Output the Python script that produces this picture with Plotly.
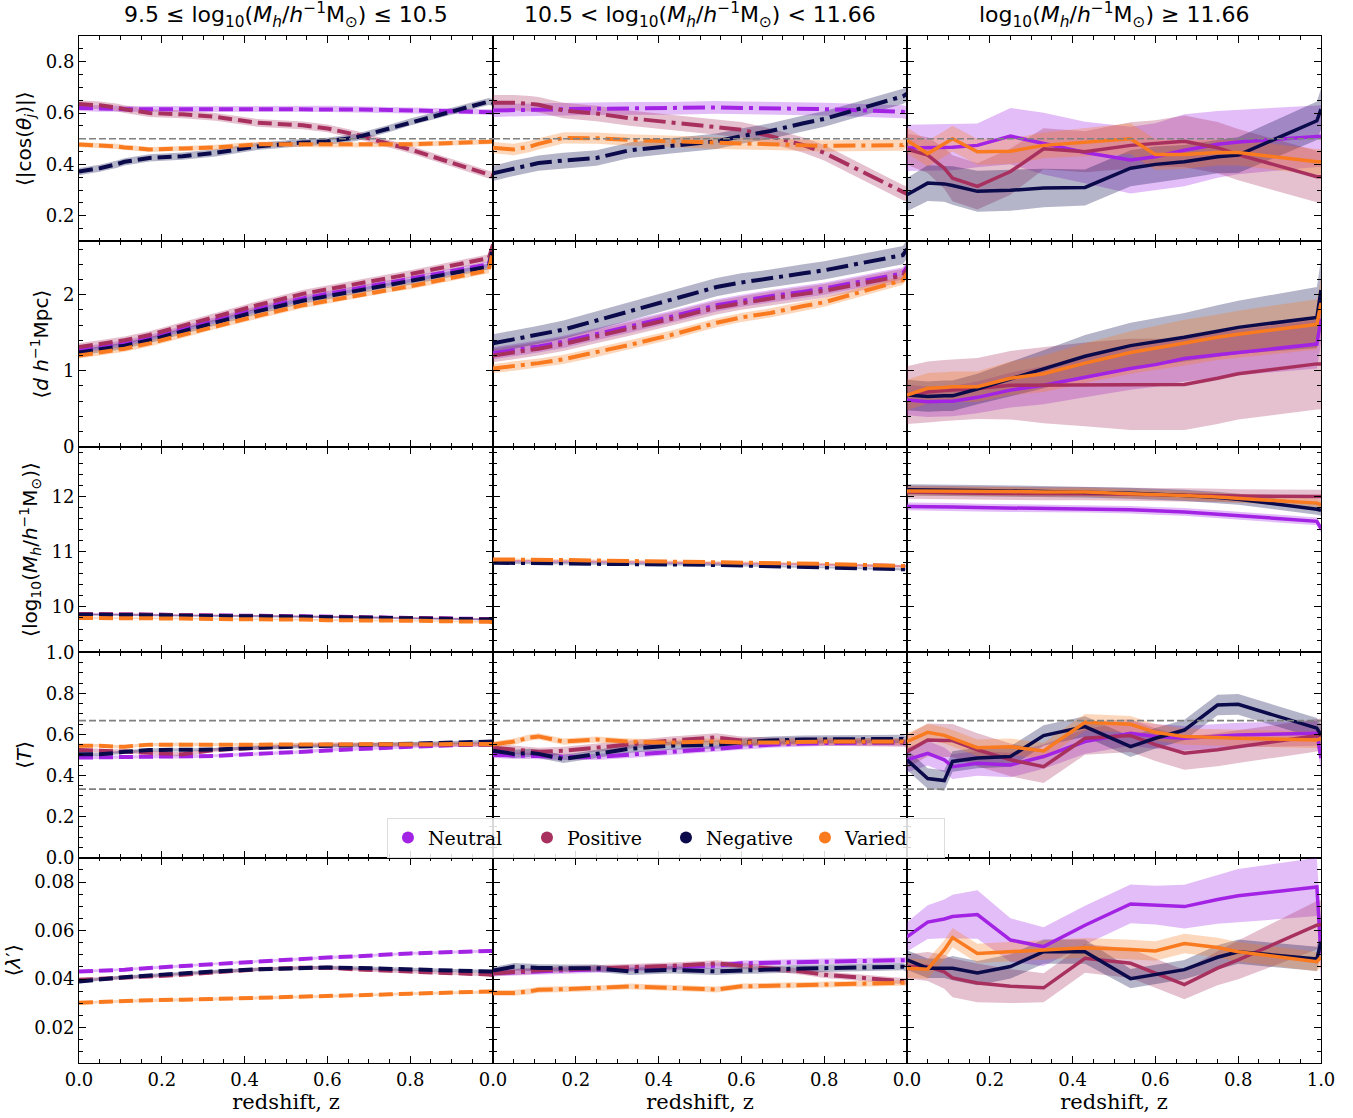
import plotly.graph_objects as go
from plotly.subplots import make_subplots

# Redshift sampling shared by every panel
z = [0.0, 0.05, 0.09, 0.11, 0.17, 0.25, 0.33, 0.43, 0.54, 0.60, 0.67, 0.75, 0.80, 0.99, 1.0]

groups = ["Neutral", "Positive", "Negative", "Varied"]
colors = {"Neutral": "#a323e5", "Positive": "#a8305f", "Negative": "#0b0a4b", "Varied": "#f97a1f"}

# ---------------- <|cos(theta_j)|> ----------------
cos_low = {
    "Neutral":  [0.62, 0.617, 0.615, 0.615, 0.615, 0.615, 0.616, 0.617, 0.617, 0.616, 0.614, 0.612, 0.61, 0.606, 0.603],
    "Positive": [0.635, 0.63, 0.622, 0.615, 0.60, 0.595, 0.585, 0.562, 0.552, 0.54, 0.515, 0.48, 0.458, 0.36, 0.355],
    "Negative": [0.372, 0.385, 0.40, 0.41, 0.425, 0.432, 0.445, 0.47, 0.485, 0.49, 0.505, 0.54, 0.565, 0.645, 0.64],
    "Varied":   [0.477, 0.474, 0.47, 0.466, 0.458, 0.462, 0.466, 0.478, 0.478, 0.476, 0.475, 0.477, 0.478, 0.488, 0.49],
}
cos_mid = {
    "Neutral":  [0.61, 0.61, 0.612, 0.613, 0.615, 0.617, 0.618, 0.618, 0.622, 0.62, 0.618, 0.616, 0.615, 0.605, 0.60],
    "Positive": [0.64, 0.64, 0.636, 0.632, 0.61, 0.598, 0.58, 0.562, 0.545, 0.535, 0.51, 0.475, 0.445, 0.29, 0.285],
    "Negative": [0.365, 0.385, 0.398, 0.405, 0.415, 0.425, 0.455, 0.472, 0.49, 0.51, 0.53, 0.56, 0.577, 0.665, 0.675],
    "Varied":   [0.465, 0.458, 0.47, 0.48, 0.503, 0.502, 0.495, 0.49, 0.482, 0.48, 0.478, 0.475, 0.472, 0.475, 0.49],
}
cos_high = {
    "Neutral":  [0.464, 0.465, 0.466, 0.467, 0.474, 0.51, 0.481, 0.446, 0.417, 0.43, 0.455, 0.478, 0.487, 0.51, 0.51],
    "Positive": [0.459, 0.436, 0.385, 0.346, 0.314, 0.372, 0.461, 0.449, 0.474, 0.482, 0.49, 0.465, 0.438, 0.352, 0.352],
    "Negative": [0.282, 0.327, 0.324, 0.318, 0.295, 0.299, 0.308, 0.31, 0.385, 0.40, 0.41, 0.43, 0.436, 0.57, 0.615],
    "Varied":   [0.494, 0.442, 0.48, 0.50, 0.449, 0.451, 0.474, 0.487, 0.50, 0.438, 0.438, 0.446, 0.446, 0.41, 0.41],
}
cos_low_err = {"Neutral": 0.012, "Positive": 0.015, "Negative": 0.014, "Varied": 0.01}
cos_mid_err = {"Neutral": 0.025, "Positive": 0.03, "Negative": 0.03, "Varied": 0.022}
cos_high_err = {
    "Neutral":  [0.09, 0.09, 0.09, 0.09, 0.085, 0.11, 0.12, 0.12, 0.13, 0.13, 0.14, 0.13, 0.125, 0.12, 0.12],
    "Positive": [0.06, 0.07, 0.08, 0.09, 0.09, 0.09, 0.08, 0.08, 0.09, 0.09, 0.10, 0.10, 0.10, 0.10, 0.10],
    "Negative": [0.065, 0.07, 0.07, 0.075, 0.08, 0.08, 0.075, 0.07, 0.07, 0.07, 0.065, 0.065, 0.07, 0.075, 0.08],
    "Varied":   [0.05, 0.05, 0.05, 0.05, 0.05, 0.05, 0.05, 0.055, 0.06, 0.06, 0.055, 0.05, 0.05, 0.05, 0.05],
}

# ---------------- <d h^-1 Mpc> ----------------
dist_low = {
    "Neutral":  [1.27, 1.31, 1.34, 1.36, 1.43, 1.55, 1.67, 1.81, 1.95, 2.01, 2.08, 2.16, 2.20, 2.40, 2.64],
    "Positive": [1.31, 1.35, 1.38, 1.40, 1.47, 1.59, 1.71, 1.86, 2.01, 2.07, 2.14, 2.22, 2.27, 2.48, 2.66],
    "Negative": [1.24, 1.28, 1.31, 1.33, 1.40, 1.52, 1.64, 1.78, 1.92, 1.98, 2.05, 2.13, 2.17, 2.37, 2.62],
    "Varied":   [1.20, 1.24, 1.27, 1.29, 1.36, 1.47, 1.59, 1.72, 1.86, 1.92, 1.99, 2.07, 2.11, 2.32, 2.60],
}
dist_mid = {
    "Neutral":  [1.23, 1.27, 1.30, 1.32, 1.38, 1.48, 1.58, 1.71, 1.86, 1.92, 1.98, 2.04, 2.08, 2.28, 2.36],
    "Positive": [1.20, 1.24, 1.27, 1.29, 1.35, 1.45, 1.55, 1.68, 1.83, 1.89, 1.95, 2.01, 2.05, 2.25, 2.33],
    "Negative": [1.36, 1.41, 1.45, 1.47, 1.54, 1.66, 1.78, 1.93, 2.10, 2.16, 2.21, 2.28, 2.32, 2.52, 2.60],
    "Varied":   [1.03, 1.06, 1.09, 1.10, 1.15, 1.24, 1.34, 1.47, 1.63, 1.70, 1.76, 1.85, 1.90, 2.19, 2.28],
}
dist_high = {
    "Neutral":  [0.615, 0.593, 0.60, 0.60, 0.65, 0.745, 0.81, 0.92, 1.03, 1.08, 1.16, 1.21, 1.24, 1.35, 1.68],
    "Positive": [0.68, 0.72, 0.74, 0.745, 0.766, 0.81, 0.81, 0.82, 0.82, 0.82, 0.82, 0.90, 0.96, 1.09, 1.09],
    "Negative": [0.68, 0.66, 0.67, 0.67, 0.76, 0.89, 1.02, 1.19, 1.33, 1.38, 1.44, 1.52, 1.57, 1.70, 2.06],
    "Varied":   [0.68, 0.77, 0.78, 0.79, 0.79, 0.90, 0.96, 1.10, 1.24, 1.30, 1.37, 1.44, 1.48, 1.61, 1.89],
}
dist_low_err = {"Neutral": 0.04, "Positive": 0.05, "Negative": 0.04, "Varied": 0.04}
dist_mid_err = {"Neutral": 0.08, "Positive": 0.09, "Negative": 0.12, "Varied": 0.06}
dist_high_err = {
    "Neutral":  [0.2, 0.2, 0.2, 0.2, 0.21, 0.23, 0.25, 0.27, 0.28, 0.29, 0.3, 0.3, 0.3, 0.32, 0.32],
    "Positive": [0.38, 0.4, 0.4, 0.4, 0.4, 0.45, 0.5, 0.55, 0.6, 0.6, 0.6, 0.6, 0.6, 0.6, 0.6],
    "Negative": [0.2, 0.2, 0.2, 0.2, 0.2, 0.22, 0.25, 0.28, 0.3, 0.31, 0.32, 0.34, 0.35, 0.4, 0.4],
    "Varied":   [0.2, 0.2, 0.2, 0.2, 0.2, 0.22, 0.24, 0.26, 0.28, 0.29, 0.3, 0.3, 0.31, 0.33, 0.33],
}

# ---------------- <log10(M_h)> ----------------
mass_low = {
    "Neutral":  [9.87, 9.87, 9.87, 9.86, 9.86, 9.85, 9.85, 9.84, 9.83, 9.82, 9.82, 9.81, 9.80, 9.78, 9.78],
    "Positive": [9.87, 9.87, 9.86, 9.86, 9.86, 9.85, 9.84, 9.84, 9.83, 9.82, 9.81, 9.80, 9.80, 9.78, 9.77],
    "Negative": [9.86, 9.86, 9.86, 9.85, 9.85, 9.84, 9.84, 9.83, 9.82, 9.82, 9.81, 9.80, 9.79, 9.77, 9.77],
    "Varied":   [9.80, 9.80, 9.80, 9.80, 9.79, 9.79, 9.78, 9.78, 9.77, 9.76, 9.76, 9.75, 9.75, 9.73, 9.72],
}
mass_mid = {
    "Neutral":  [10.83, 10.83, 10.83, 10.83, 10.82, 10.82, 10.81, 10.80, 10.79, 10.79, 10.78, 10.77, 10.77, 10.74, 10.74],
    "Positive": [10.83, 10.83, 10.83, 10.82, 10.82, 10.81, 10.81, 10.80, 10.79, 10.78, 10.78, 10.77, 10.76, 10.73, 10.73],
    "Negative": [10.80, 10.80, 10.80, 10.79, 10.79, 10.78, 10.78, 10.77, 10.76, 10.75, 10.74, 10.73, 10.72, 10.68, 10.68],
    "Varied":   [10.86, 10.86, 10.86, 10.85, 10.85, 10.84, 10.83, 10.82, 10.81, 10.80, 10.80, 10.79, 10.78, 10.74, 10.75],
}
mass_high = {
    "Neutral":  [11.82, 11.82, 11.81, 11.81, 11.80, 11.79, 11.78, 11.78, 11.76, 11.74, 11.72, 11.68, 11.65, 11.55, 11.42],
    "Positive": [12.08, 12.08, 12.07, 12.07, 12.06, 12.06, 12.05, 12.05, 12.04, 12.03, 12.03, 12.02, 12.01, 12.0, 12.0],
    "Negative": [12.12, 12.12, 12.12, 12.12, 12.11, 12.10, 12.09, 12.08, 12.06, 12.04, 12.02, 11.98, 11.95, 11.77, 11.75],
    "Varied":   [12.10, 12.10, 12.10, 12.10, 12.09, 12.09, 12.08, 12.08, 12.05, 12.04, 12.02, 11.99, 11.97, 11.88, 11.85],
}
mass_low_err = {"Neutral": 0.015, "Positive": 0.015, "Negative": 0.015, "Varied": 0.015}
mass_mid_err = {"Neutral": 0.02, "Positive": 0.02, "Negative": 0.02, "Varied": 0.02}
mass_high_err = {"Neutral": 0.07, "Positive": 0.12, "Negative": 0.1, "Varied": 0.08}

# ---------------- <T> ----------------
tri_low = {
    "Neutral":  [0.487, 0.488, 0.49, 0.49, 0.492, 0.49, 0.495, 0.505, 0.515, 0.525, 0.53, 0.535, 0.54, 0.553, 0.553],
    "Positive": [0.524, 0.522, 0.52, 0.516, 0.51, 0.503, 0.525, 0.535, 0.548, 0.55, 0.55, 0.55, 0.55, 0.55, 0.55],
    "Negative": [0.503, 0.503, 0.51, 0.515, 0.524, 0.524, 0.526, 0.535, 0.54, 0.545, 0.548, 0.552, 0.555, 0.565, 0.565],
    "Varied":   [0.545, 0.545, 0.54, 0.54, 0.55, 0.552, 0.55, 0.55, 0.55, 0.55, 0.55, 0.552, 0.552, 0.553, 0.553],
}
tri_mid = {
    "Neutral":  [0.50, 0.495, 0.495, 0.495, 0.49, 0.49, 0.50, 0.515, 0.53, 0.54, 0.55, 0.555, 0.558, 0.56, 0.555],
    "Positive": [0.535, 0.525, 0.52, 0.515, 0.52, 0.535, 0.55, 0.57, 0.585, 0.57, 0.565, 0.565, 0.565, 0.56, 0.555],
    "Negative": [0.52, 0.505, 0.51, 0.505, 0.48, 0.505, 0.53, 0.545, 0.55, 0.56, 0.57, 0.575, 0.575, 0.578, 0.57],
    "Varied":   [0.55, 0.565, 0.585, 0.59, 0.565, 0.575, 0.565, 0.56, 0.565, 0.56, 0.56, 0.565, 0.565, 0.565, 0.56],
}
tri_high = {
    "Neutral":  [0.476, 0.508, 0.476, 0.443, 0.459, 0.451, 0.492, 0.565, 0.605, 0.59, 0.581, 0.59, 0.597, 0.605, 0.484],
    "Positive": [0.516, 0.573, 0.57, 0.57, 0.525, 0.476, 0.443, 0.581, 0.594, 0.55, 0.508, 0.525, 0.54, 0.597, 0.597],
    "Negative": [0.476, 0.385, 0.375, 0.468, 0.485, 0.492, 0.594, 0.638, 0.54, 0.581, 0.621, 0.743, 0.746, 0.63, 0.597],
    "Varied":   [0.565, 0.61, 0.595, 0.581, 0.535, 0.54, 0.519, 0.659, 0.649, 0.61, 0.589, 0.585, 0.581, 0.573, 0.58],
}
tri_low_err = {"Neutral": 0.008, "Positive": 0.01, "Negative": 0.008, "Varied": 0.008}
tri_mid_err = {"Neutral": 0.015, "Positive": 0.02, "Negative": 0.02, "Varied": 0.015}
tri_high_err = {"Neutral": 0.06, "Positive": 0.08, "Negative": 0.05, "Varied": 0.04}

# ---------------- <lambda'> ----------------
spin_low = {
    "Neutral":  [0.0431, 0.0434, 0.0437, 0.0439, 0.0446, 0.0454, 0.0465, 0.0474, 0.0484, 0.0489, 0.0494, 0.0501, 0.0506, 0.0516, 0.0516],
    "Positive": [0.0397, 0.0401, 0.0404, 0.0406, 0.0410, 0.0418, 0.0428, 0.0440, 0.0447, 0.0447, 0.0440, 0.0433, 0.0431, 0.0419, 0.0417],
    "Negative": [0.0390, 0.0400, 0.0405, 0.0408, 0.0415, 0.0425, 0.0432, 0.0440, 0.0447, 0.0448, 0.0446, 0.0443, 0.0440, 0.0433, 0.0431],
    "Varied":   [0.0302, 0.0306, 0.0309, 0.0311, 0.0313, 0.0315, 0.0318, 0.0322, 0.0327, 0.0330, 0.0332, 0.0337, 0.0340, 0.0347, 0.0349],
}
spin_mid = {
    "Neutral":  [0.0424, 0.0428, 0.0431, 0.0433, 0.0436, 0.0440, 0.0444, 0.0449, 0.0455, 0.0465, 0.0468, 0.0471, 0.0473, 0.0478, 0.0478],
    "Positive": [0.0424, 0.0430, 0.0434, 0.0436, 0.0440, 0.0444, 0.0448, 0.0455, 0.0465, 0.0455, 0.0445, 0.0430, 0.0418, 0.0392, 0.039],
    "Negative": [0.0435, 0.0451, 0.0448, 0.0446, 0.0445, 0.0445, 0.0432, 0.0438, 0.0432, 0.0436, 0.0439, 0.0444, 0.0445, 0.0451, 0.0445],
    "Varied":   [0.0343, 0.0343, 0.0350, 0.0356, 0.0358, 0.0362, 0.0370, 0.0364, 0.0357, 0.0370, 0.0373, 0.0376, 0.0377, 0.0385, 0.0385],
}
spin_high = {
    "Neutral":  [0.0574, 0.0635, 0.0648, 0.0658, 0.0666, 0.0561, 0.0534, 0.0622, 0.0710, 0.0705, 0.0699, 0.0728, 0.0744, 0.0780, 0.0506],
    "Positive": [0.0452, 0.0452, 0.043, 0.0405, 0.0384, 0.0371, 0.0364, 0.0486, 0.0465, 0.0425, 0.0377, 0.0445, 0.0479, 0.0622, 0.0625],
    "Negative": [0.0479, 0.0445, 0.0445, 0.0445, 0.0425, 0.0452, 0.0513, 0.0513, 0.0402, 0.042, 0.0439, 0.049, 0.0513, 0.0483, 0.0554],
    "Varied":   [0.0445, 0.0441, 0.052, 0.0571, 0.0506, 0.0513, 0.052, 0.0529, 0.0522, 0.0516, 0.0547, 0.053, 0.0513, 0.0472, 0.049],
}
spin_low_err = {"Neutral": 0.0006, "Positive": 0.0007, "Negative": 0.0007, "Varied": 0.0006}
spin_mid_err = {"Neutral": 0.0012, "Positive": 0.0013, "Negative": 0.0015, "Varied": 0.0012}
spin_high_err = {
    "Neutral":  [0.006, 0.007, 0.008, 0.009, 0.01, 0.009, 0.008, 0.008, 0.008, 0.008, 0.009, 0.01, 0.011, 0.012, 0.012],
    "Positive": [0.005, 0.006, 0.007, 0.008, 0.008, 0.007, 0.006, 0.006, 0.006, 0.006, 0.006, 0.007, 0.008, 0.01, 0.01],
    "Negative": [0.004, 0.004, 0.004, 0.005, 0.005, 0.005, 0.005, 0.005, 0.004, 0.004, 0.004, 0.005, 0.005, 0.005, 0.005],
    "Varied":   [0.004, 0.004, 0.004, 0.004, 0.004, 0.004, 0.004, 0.004, 0.004, 0.004, 0.004, 0.004, 0.004, 0.004, 0.004],
}

panels = [
    [(cos_low, cos_low_err), (cos_mid, cos_mid_err), (cos_high, cos_high_err)],
    [(dist_low, dist_low_err), (dist_mid, dist_mid_err), (dist_high, dist_high_err)],
    [(mass_low, mass_low_err), (mass_mid, mass_mid_err), (mass_high, mass_high_err)],
    [(tri_low, tri_low_err), (tri_mid, tri_mid_err), (tri_high, tri_high_err)],
    [(spin_low, spin_low_err), (spin_mid, spin_mid_err), (spin_high, spin_high_err)],
]

msun = "M<sub>⊙</sub>"
mass_unit = f"<i>M<sub>h</sub></i>/<i>h</i><sup>−1</sup>{msun}"
col_titles = [
    f"9.5 ≤ log<sub>10</sub>({mass_unit}) ≤ 10.5",
    f"10.5 < log<sub>10</sub>({mass_unit}) < 11.66",
    f"log<sub>10</sub>({mass_unit}) ≥ 11.66",
]
row_titles = [
    "⟨|cos(<i>θ<sub>j</sub></i>)|⟩",
    "⟨<i>d</i> <i>h</i><sup>−1</sup>Mpc⟩",
    f"⟨log<sub>10</sub>({mass_unit})⟩",
    "⟨<i>T</i>⟩",
    "⟨<i>λ</i>′⟩",
]
row_ranges = [[0.1, 0.9], [0, 2.7], [9.18, 12.9], [0, 1], [0.0054, 0.0901]]
row_ticks = [[0.2, 0.4, 0.6, 0.8], [0, 1, 2], [10, 11, 12],
             [0, 0.2, 0.4, 0.6, 0.8, 1.0], [0.02, 0.04, 0.06, 0.08]]
row_fmt = [".1f", "d", "d", ".1f", ".2f"]
row_minor = [0.05, 0.2, 0.2, 0.05, 0.005]

cos_random = 0.5
tri_oblate = 1.0 / 3.0
tri_prolate = 2.0 / 3.0

column_dash = ["14px,6px", "22px,6px,4px,6px", "solid"]
column_width = [4, 4, 3.5]
band_alpha = 0.3


def rgba(hex_color, a):
    h = hex_color.lstrip("#")
    r, g, b = int(h[0:2], 16), int(h[2:4], 16), int(h[4:6], 16)
    return f"rgba({r},{g},{b},{a})"


fig = make_subplots(rows=5, cols=3, horizontal_spacing=0, vertical_spacing=0)

for r, row in enumerate(panels, start=1):
    for c, (means, errs) in enumerate(row, start=1):
        for g in groups:
            m = means[g]
            e = errs[g]
            e = e if isinstance(e, list) else [e] * len(m)
            upper = [a + b for a, b in zip(m, e)]
            lower = [a - b for a, b in zip(m, e)]
            fig.add_trace(go.Scatter(
                x=z + z[::-1], y=upper + lower[::-1], fill="toself",
                fillcolor=rgba(colors[g], band_alpha), line=dict(width=0),
                mode="lines", hoverinfo="skip", showlegend=False,
            ), row=r, col=c)
        for g in groups:
            fig.add_trace(go.Scatter(
                x=z, y=means[g], mode="lines", name=g,
                line=dict(color=colors[g], width=column_width[c - 1], dash=column_dash[c - 1]),
                showlegend=False,
            ), row=r, col=c)

# reference values: random alignment and triaxiality boundaries
for c in range(1, 4):
    fig.add_hline(y=cos_random, row=1, col=c, line=dict(color="#808080", width=1.6, dash="7px,3px"))
    for t in (tri_oblate, tri_prolate):
        fig.add_hline(y=t, row=4, col=c, line=dict(color="#808080", width=1.6, dash="7px,3px"))

# legend entries drawn as dots
for g in groups:
    fig.add_trace(go.Scatter(
        x=[None], y=[None], mode="markers", name=g,
        marker=dict(color=colors[g], size=11), showlegend=True,
    ), row=1, col=1)

serif = "DejaVu Serif"
sans = "DejaVu Sans"
xticks = [0, 0.2, 0.4, 0.6, 0.8, 1.0]

for r in range(1, 6):
    for c in range(1, 4):
        xt = ["0.0", "0.2", "0.4", "0.6", "0.8", "1.0" if c == 3 else " "]
        fig.update_xaxes(
            range=[0, 1], tickvals=xticks, ticktext=xt,
            showticklabels=(r == 5),
            ticks="inside", ticklen=7, tickwidth=1.2, tickcolor="black",
            minor=dict(ticks="inside", ticklen=3.5, dtick=0.05, tick0=0, tickcolor="black", tickwidth=1),
            showline=True, linecolor="black", linewidth=1.1, mirror="allticks",
            showgrid=False, zeroline=False,
            tickfont=dict(family=serif, size=18, color="black"),
            row=r, col=c,
        )
        fig.update_yaxes(
            range=row_ranges[r - 1], tickvals=row_ticks[r - 1], tickformat=row_fmt[r - 1],
            showticklabels=(c == 1),
            ticks="inside", ticklen=7, tickwidth=1.2, tickcolor="black",
            minor=dict(ticks="inside", ticklen=3.5, dtick=row_minor[r - 1], tick0=0, tickcolor="black", tickwidth=1),
            showline=True, linecolor="black", linewidth=1.1, mirror="allticks",
            showgrid=False, zeroline=False,
            tickfont=dict(family=serif, size=18, color="black"),
            row=r, col=c,
        )
        if r == 5:
            fig.update_xaxes(title=dict(text="redshift, z", font=dict(family=serif, size=21, color="black"), standoff=2),
                             row=r, col=c)
    fig.update_yaxes(title=dict(text=row_titles[r - 1], font=dict(family=sans, size=20, color="black"), standoff=8),
                     row=r, col=1)

for c in range(3):
    fig.add_annotation(
        text=col_titles[c], x=(c + 0.5) / 3, y=1.0, xref="paper", yref="paper",
        xanchor="center", yanchor="bottom", yshift=3, showarrow=False,
        font=dict(family=sans, size=22, color="black"),
    )

fig.update_layout(
    width=1353, height=1118,
    margin=dict(l=79, r=32, t=36, b=48),
    paper_bgcolor="white", plot_bgcolor="white",
    legend=dict(
        orientation="h", traceorder="normal",
        x=0.4726, y=0.2195, xanchor="center", yanchor="middle",
        bgcolor="rgba(255,255,255,0.85)", bordercolor="#dddddd", borderwidth=1,
        font=dict(family=serif, size=19, color="black"),
        itemsizing="constant", itemwidth=30,
        entrywidth=94, entrywidthmode="pixels",
    ),
)

fig.write_html("out.html")
